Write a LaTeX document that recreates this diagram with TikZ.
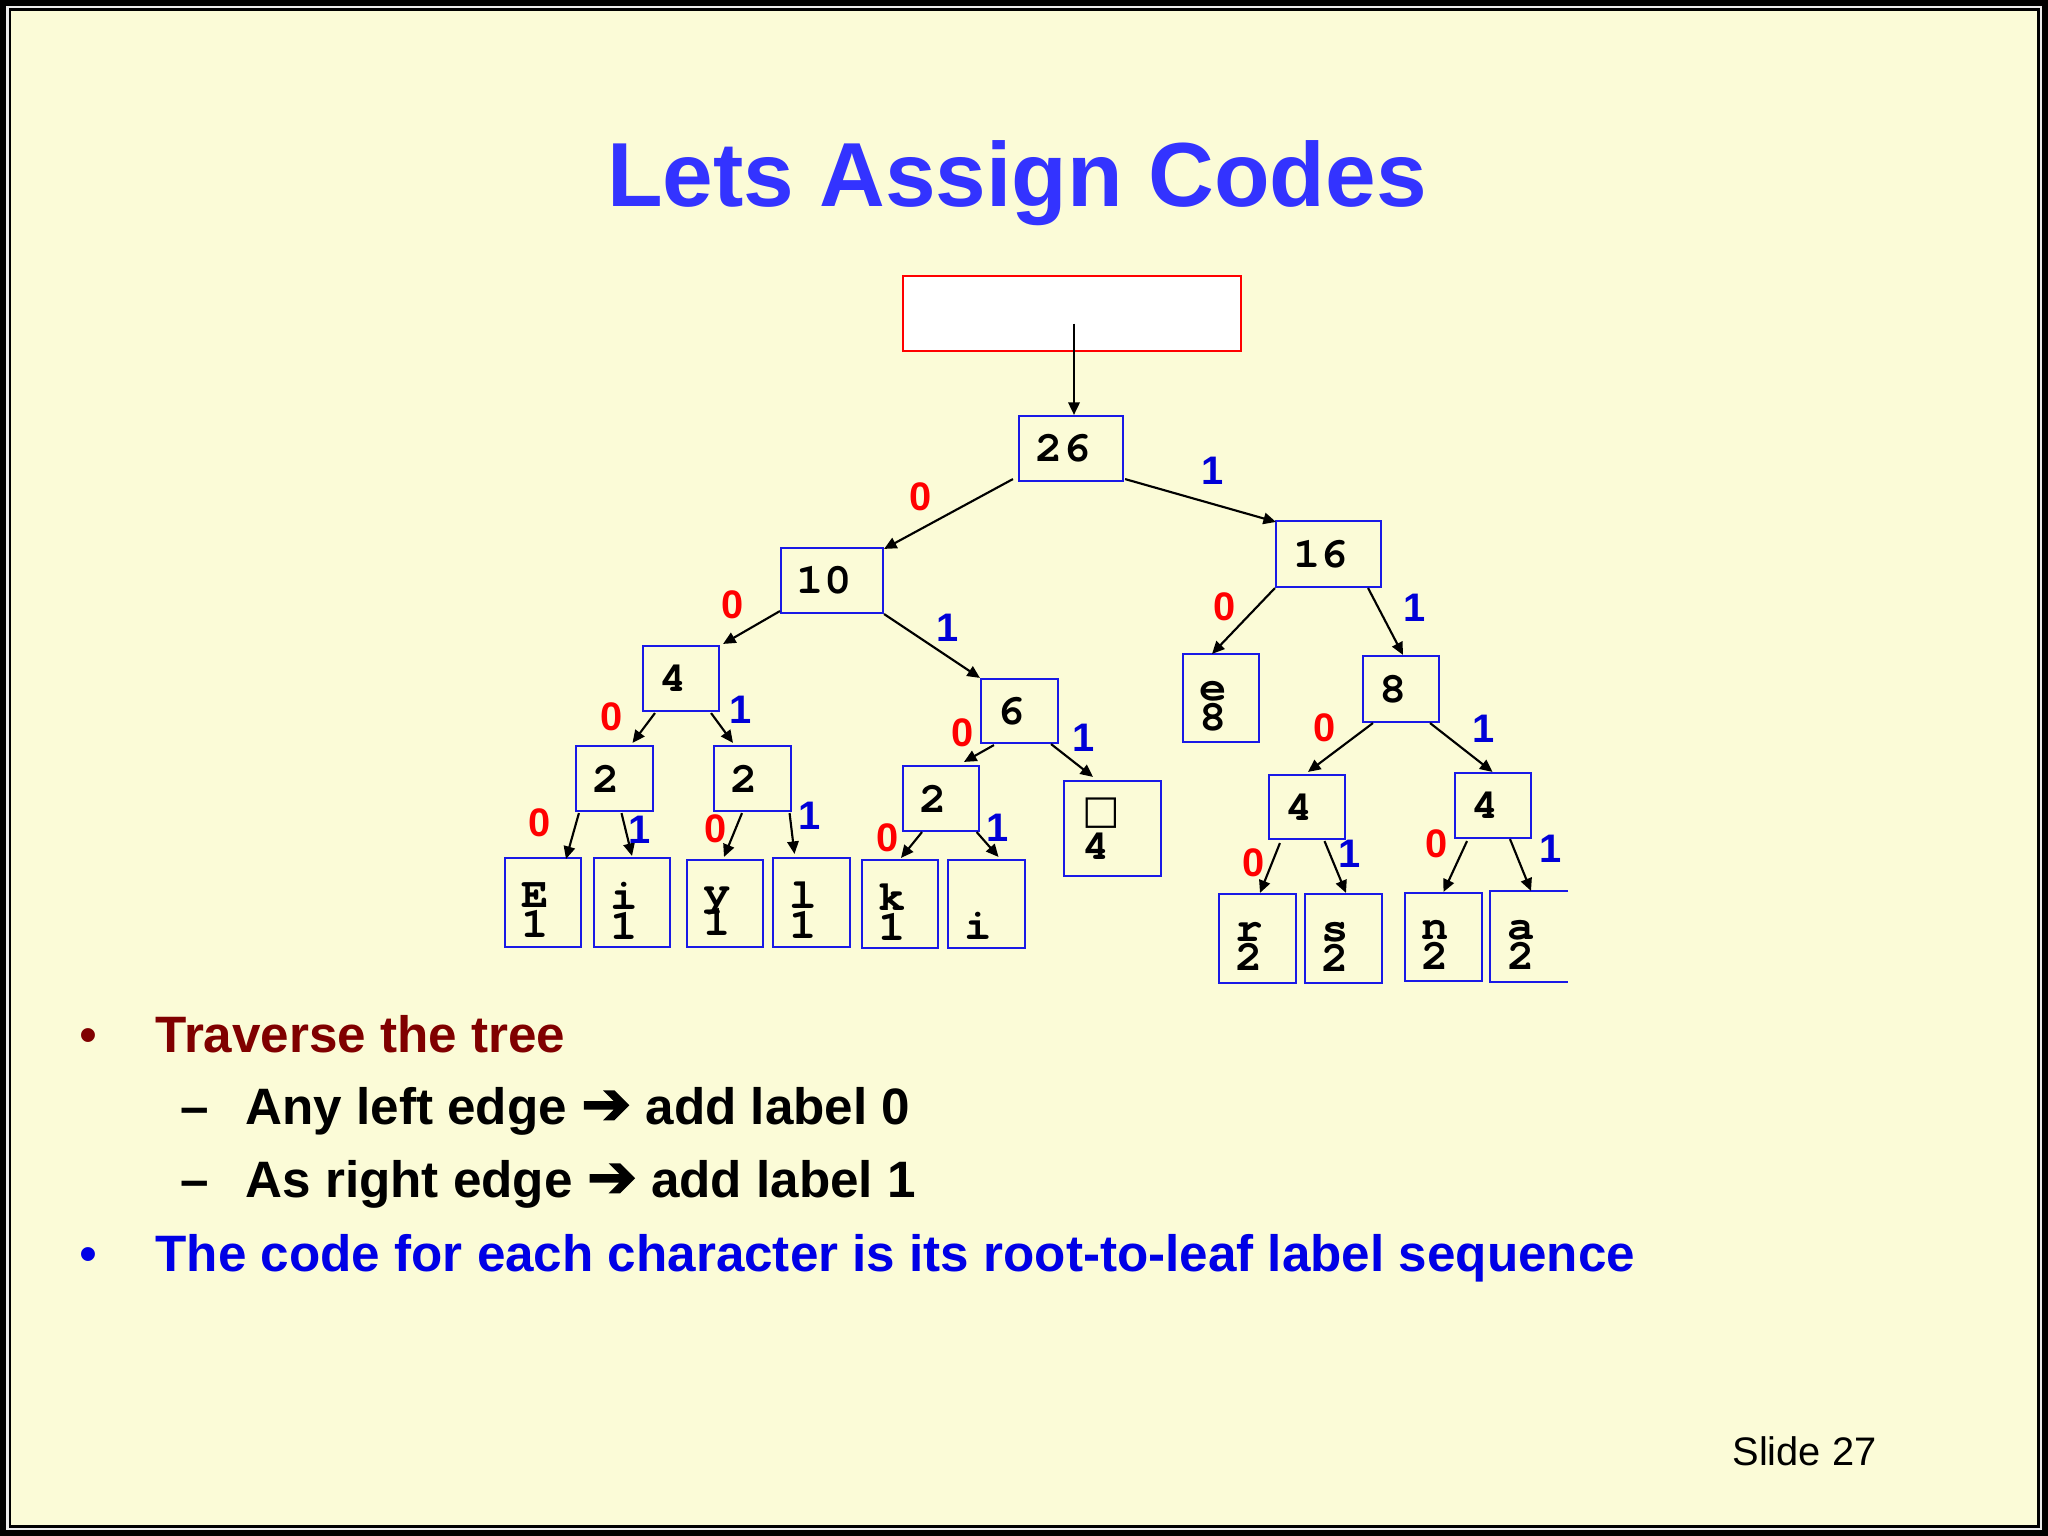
\documentclass[tikz,border=0pt]{standalone}
\usepackage{fontspec}
\setmainfont{Liberation Sans}
\newfontfamily\monofont{TeX Gyre Cursor}[FakeStretch=1.07]
\newfontfamily\symfont{DejaVu Sans}
\newfontfamily\arrowfont{DejaVu Sans}[FakeBold=2.5]
\usetikzlibrary{arrows.meta,calc}

\definecolor{bg}{RGB}{251,251,215}
\definecolor{titleblue}{RGB}{51,51,255}
\definecolor{boxblue}{RGB}{25,25,230}
\definecolor{lblred}{RGB}{255,0,0}
\definecolor{lblblue}{RGB}{0,0,215}
\definecolor{darkred}{RGB}{128,0,0}
\definecolor{textblue}{RGB}{0,0,230}

\newcommand\px{0.3515625bp}
\newcommand\trail{\rule{5.625bp}{0pt}}
\newcommand\twoline[3][5.6bp]{\vbox{\baselineskip=10.5bp\lineskiplimit=-100bp\lineskip=0pt\kern#1\hbox{#2}\hbox{#3}}}

\tikzset{
  box/.style={draw=boxblue, line width=0.75bp, inner sep=0pt,
    font=\monofont\bfseries\fontsize{15bp}{10.5bp}\selectfont},
  inner/.style={box, minimum width=77*\px, minimum height=65*\px},
  wide/.style={box, minimum width=104*\px, minimum height=65*\px},
  leaf/.style={box, minimum width=76*\px, minimum height=89*\px},
  arr/.style={line width=0.75bp, -{Triangle[length=4.4bp,width=4bp]}},
  zero/.style={text=lblred, inner sep=0pt, font=\bfseries\fontsize{14bp}{14bp}\selectfont},
  one/.style={text=lblblue, inner sep=0pt, font=\bfseries\fontsize{14bp}{14bp}\selectfont},
  txt/.style={anchor=base west, inner sep=0pt, font=\bfseries\fontsize{18bp}{22bp}\selectfont}
}

\begin{document}
\begin{tikzpicture}[x=0.3515625bp, y=-0.3515625bp]
\useasboundingbox (0,0) rectangle (2048,1536);
% frame and background
\fill[black] (0,0) rectangle (2048,1536);
\fill[white!92!black] (6,6) rectangle (2042,1530);
\fill[black] (8.5,8.5) rectangle (2039.5,1527.5);
\fill[bg] (11,11) rectangle (2037,1525);

% title
\node[anchor=base, inner sep=0pt, text=titleblue, font=\bfseries\fontsize{32bp}{38bp}\selectfont] (title) at (1017,206) {Lets Assign Codes};

% red box
\node[draw=red, fill=white, line width=0.75bp, inner sep=0pt, minimum width=338*\px, minimum height=75*\px] (top) at (1072,313.5) {};

% internal nodes
\node[wide] (n26) at (1071,448.5) {26\trail};
\node[wide, minimum width=102*\px] (n10) at (832,580.5) {10\trail};
\node[wide, minimum width=105*\px, minimum height=66*\px] (n16) at (1328.5,554) {16\trail};
\node[inner, minimum width=76*\px] (n4a) at (681,678.5) {4\trail};
\node[inner, minimum height=64*\px] (n6) at (1019.5,711) {6\trail};
\node[inner, minimum width=76*\px, minimum height=66*\px] (n8) at (1401,689) {8\trail};
\node[inner] (n2a) at (614.5,778.5) {2\trail};
\node[inner] (n2b) at (752.5,778.5) {2\trail};
\node[inner, minimum width=76*\px] (n2c) at (941,798.5) {2\trail};
\node[inner, minimum width=76*\px, minimum height=64*\px] (n4b) at (1307,807) {4\trail};
\node[inner, minimum width=76*\px] (n4c) at (1493,805.5) {4\trail};

% leaves
\node[leaf, minimum height=88*\px] (ne) at (1221,698) {\twoline{e}{8}\trail};
\node[leaf, minimum width=97*\px, minimum height=95*\px] (nsp) at (1112.5,828.5) {\twoline[0bp]{\raisebox{2.2bp}{\symfont\fontsize{14bp}{10bp}\selectfont □}}{4}\rule{8bp}{0pt}};
\node[leaf] (nE) at (543,902.5) {\twoline{E}{1}\trail};
\node[leaf] (ni1) at (632,902.5) {\twoline{i}{1}\trail};
\node[leaf, minimum height=87*\px] (ny) at (725,903.5) {\twoline{y}{1}\trail};
\node[leaf, minimum width=77*\px] (nl) at (811.5,902.5) {\twoline{l}{1}\trail};
\node[leaf, minimum height=88*\px] (nk) at (900,904) {\twoline{k}{1}\trail};
\node[leaf, minimum width=77*\px, minimum height=88*\px] (ni2) at (986.5,904) {\twoline{\phantom{E}}{i}\trail};
\node[leaf, minimum width=77*\px] (nr) at (1257.5,938.5) {\twoline{r}{2}\trail};
\node[leaf, minimum width=77*\px] (ns) at (1343.5,938.5) {\twoline{s}{2}\trail};
\node[leaf, minimum width=77*\px, minimum height=88*\px] (nn) at (1443.5,937) {\twoline{n}{2}\trail};
\node[leaf, draw=none, minimum height=89*\px] (na) at (1529,936.5) {\twoline{a}{2}\trail};
\draw[boxblue, line width=0.75bp] (na.north east) -- (na.north west) -- (na.south west) -- (na.south east);

% connectors
\draw[arr] ($(top.center)+(2,10)$) -- ($(n26.north)+(3,0)$);
\draw[arr] ($(n26.south west)+(-5,-3)$) -- ($(n10.north east)+(0,2)$);
\draw[arr] ($(n26.south east)+(1,-3)$) -- ($(n16.north west)+(1,2)$);
\draw[arr] ($(n10.south west)+(0,-3)$) -- ($(n4a.north east)+(3,-1)$);
\draw[arr] (n10.south east) -- (n6.north west);
\draw[arr] ($(n4a.south west)+(13,1)$) -- ($(n2a.north)+(18,-2)$);
\draw[arr] ($(n4a.south east)+(-9,1)$) -- ($(n2b.north)+(-19.5,-2)$);
\draw[arr] ($(n2a.south west)+(4,1)$) -- ($(nE.north)+(23,2)$);
\draw[arr] ($(n2a.south)+(7,1)$) -- ($(ni1.north)+(0,-1)$);
\draw[arr] ($(n2b.south)+(-10.5,1)$) -- ($(ny.north)+(-1,-2)$);
\draw[arr] ($(n2b.south east)+(-2.5,1)$) -- ($(nl.north)+(-17,-3)$);
\draw[arr] ($(n6.south west)+(14,1)$) -- ($(n2c.north)+(23,-3)$);
\draw[arr] ($(n6.south east)+(-8,0)$) -- ($(nsp.north)+(-19.5,-3)$);
\draw[arr] ($(n2c.south)+(-19,0)$) -- ($(nk.north)+(1,-1)$);
\draw[arr] ($(n2c.south east)+(-3.4,0)$) -- ($(ni2.north)+(12,-2)$);
\draw[arr] (n16.south west) -- ($(ne.north)+(-9,1)$);
\draw[arr] ($(n16.south east)+(-14,0)$) -- ($(n8.north)+(2,0)$);
\draw[arr] ($(n8.south west)+(11,0)$) -- ($(n4b.north)+(1,-2)$);
\draw[arr] ($(n8.south east)+(-10,0)$) -- ($(n4c.north)+(-0.5,0)$);
\draw[arr] ($(n4b.south west)+(12,3)$) -- ($(nr.north)+(2.5,0)$);
\draw[arr] ($(n4b.south)+(17.5,1)$) -- ($(ns.north)+(2.5,0)$);
\draw[arr] ($(n4c.south)+(-26,2)$) -- (nn.north);
\draw[arr] ($(n4c.south)+(17,0)$) -- ($(na.north)+(2,0)$);

% edge labels
\node[zero] (z1) at (921,497) {0};
\node[one]  (o1) at (1213,471) {1};
\node[zero] (z2) at (733,605) {0};
\node[one]  (o2) at (948,628) {1};
\node[zero] (z3) at (612,717) {0};
\node[one]  (o3) at (741,710) {1};
\node[zero] (z4) at (540,823) {0};
\node[one]  (o4) at (640,830) {1};
\node[zero] (z5) at (716,829) {0};
\node[one]  (o5) at (810,816) {1};
\node[zero] (z6) at (963,733) {0};
\node[one]  (o6) at (1084,738) {1};
\node[zero] (z7) at (888,838) {0};
\node[one]  (o7) at (998,828) {1};
\node[zero] (z8) at (1225,607) {0};
\node[one]  (o8) at (1415,608) {1};
\node[zero] (z9) at (1325,728) {0};
\node[one]  (o9) at (1484,729) {1};
\node[zero] (z10) at (1254,863) {0};
\node[one]  (o10) at (1350,854) {1};
\node[zero] (z11) at (1437,844) {0};
\node[one]  (o11) at (1551,849) {1};

% bullet text
\node[txt, text=darkred, font=\fontsize{18bp}{22bp}\selectfont] (d1) at (79,1052) {•};
\node[txt, text=darkred] (b1) at (155,1052) {Traverse the tree};
\node[txt] (d2) at (180,1124) {–};
\node[txt] (b2) at (245,1124) {Any left edge {\arrowfont\fontsize{21bp}{22bp}\selectfont ➔} add label 0};
\node[txt] (d3) at (180,1197) {–};
\node[txt] (b3) at (245,1197) {As right edge {\arrowfont\fontsize{21bp}{22bp}\selectfont ➔} add label 1};
\node[txt, text=textblue, font=\fontsize{18bp}{22bp}\selectfont] (d4) at (79,1271) {•};
\node[txt, text=textblue] (b4) at (155,1271) {The code for each character is its root-to-leaf label sequence};

% footer
\node[anchor=base west, inner sep=0pt, font=\fontsize{14bp}{17bp}\selectfont] (slide) at (1732,1465) {Slide 27};
\end{tikzpicture}
\end{document}
